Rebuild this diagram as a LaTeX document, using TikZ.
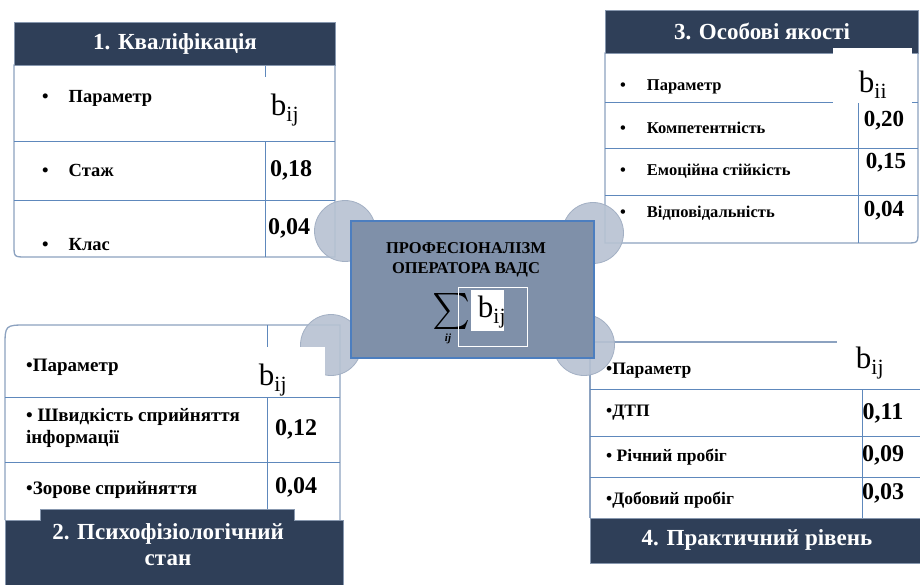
\documentclass[tikz,border=0pt]{standalone}
\usepackage{fontspec}
\setmainfont{Liberation Serif}
\definecolor{hdr}{HTML}{2F3F58}
\definecolor{hdredge}{HTML}{8797AE}
\definecolor{ctr}{HTML}{7F90A9}
\definecolor{ctredge}{HTML}{4C7EBF}
\definecolor{circ}{HTML}{B7C2D2}
\definecolor{circedge}{HTML}{A3B0C4}
\definecolor{grid}{HTML}{5E88BC}
\definecolor{outer}{HTML}{8CA2C0}
\tikzset{
  hdrbox/.style={fill=hdr,draw=hdredge,line width=1pt},
  hdrtext/.style={text=white,font=\fontsize{23}{26}\selectfont\bfseries,align=center,inner sep=0pt},
  panel/.style={fill=white,draw=outer,line width=1.3pt},
  gridline/.style={draw=grid,line width=0.9pt},
  bubble/.style={circle,fill=circ,draw=circedge,line width=0.8pt,minimum size=61pt,inner sep=0pt,fill opacity=0.9},
  lblA/.style={anchor=west,font=\fontsize{18.5}{20}\selectfont\bfseries,inner sep=0pt},
  lblB/.style={anchor=west,font=\fontsize{16.5}{18}\selectfont\bfseries,inner sep=0pt},
  lblD/.style={anchor=west,font=\fontsize{17.5}{19}\selectfont\bfseries,inner sep=0pt},
  lblC/.style={anchor=west,font=\fontsize{19}{21.5}\selectfont\bfseries,inner sep=0pt,align=left},
  valA/.style={font=\fontsize{24}{26}\selectfont\bfseries,inner sep=0pt},
  valB/.style={font=\fontsize{23}{25}\selectfont\bfseries,inner sep=0pt},
  bsym/.style={font=\fontsize{31}{33}\selectfont,inner sep=0pt},
  whitebox/.style={fill=white,draw=none},
}
\begin{document}
\begin{tikzpicture}[x=1pt,y=-1pt]
\useasboundingbox[fill=white] (0,0) rectangle (920,585);

% ---------- Panel 1 ----------
\path[panel] (14,65) -- (14,245) .. controls (14,257) .. (26,257) -- (335,257) -- (335,65) -- cycle;
\draw[gridline] (14,141) -- (335,141);
\draw[gridline] (14,200) -- (335,200);
\draw[gridline] (265,65) -- (265,257);
\node[hdrbox,minimum width=321pt,minimum height=43pt,anchor=north west,inner sep=0pt] (h1) at (14,22) {};
\node[hdrtext] (h1t) at (175,44) {1. Кваліфікація};
\node[lblA] (p1a) at (42,98) {•\hspace{20pt}Параметр};
\node[lblA] (p1b) at (42,170) {•\hspace{20pt}Стаж};
\node[lblA] (p1c) at (42,245) {•\hspace{20pt}Клас};
\node[valA] (v1b) at (291,170) {0,18};
\node[valA] (v1c) at (289,228) {0,04};

% ---------- Panel 3 ----------
\path[panel] (605,53) -- (605,243) -- (906,243) .. controls (918,243) .. (918,231) -- (918,53) -- cycle;
\draw[gridline] (605,102) -- (918,102);
\draw[gridline] (605,148) -- (918,148);
\draw[gridline] (605,195) -- (918,195);
\draw[gridline] (858,53) -- (858,243);
\node[hdrbox,minimum width=313pt,minimum height=43pt,anchor=north west,inner sep=0pt] (h3) at (605,10) {};
\node[hdrtext] (h3t) at (762,31) {3. Особові якості};
\node[lblB] (p3a) at (620,87) {•\hspace{21pt}Параметр};
\node[lblB] (p3b) at (620,128) {•\hspace{21pt}Компетентність};
\node[lblB] (p3c) at (620,171) {•\hspace{21pt}Емоційна стійкість};
\node[lblB] (p3d) at (620,213) {•\hspace{21pt}Відповідальність};
\node[valB] (v3b) at (884,121) {0,20};
\node[valB] (v3c) at (886,163) {0,15};
\node[valB] (v3d) at (884,211) {0,04};

% ---------- Panel 2 ----------
\path[panel] (5,520) -- (5,347) .. controls (5,325) .. (27,325) -- (340,325) -- (340,520);
\draw[gridline] (5,397) -- (340,397);
\draw[gridline] (5,462) -- (340,462);
\draw[gridline] (267,325) -- (267,520);
\path[hdrbox] (5,586) -- (5,520) -- (40,520) -- (40,509) -- (294,509) -- (294,520) -- (343,520) -- (343,586);
\node[hdrtext] (h2t) at (168,545) {2. Психофізіологічний\\стан};
\node[lblC] (p2a) at (26,367) {•Параметр};
\node[lblC] (p2b) at (26,428) {• Швидкість сприйняття\\інформації};
\node[lblC] (p2c) at (26,490) {•Зорове сприйняття};
\node[valA] (v2b) at (296,429) {0,12};
\node[valA] (v2c) at (296,487) {0,04};

% ---------- Panel 4 ----------
\path[panel] (590,518) -- (590,342) -- (921,342);
\draw[gridline] (590,389) -- (921,389);
\draw[gridline] (590,436) -- (921,436);
\draw[gridline] (590,477) -- (921,477);
\draw[gridline] (862,389) -- (862,518);
\node[hdrbox,minimum width=331pt,minimum height=45pt,anchor=north west,inner sep=0pt] (h4) at (590,518) {};
\node[hdrtext] (h4t) at (757,540) {4. Практичний рівень};
\node[lblD] (p4a) at (606,371) {•Параметр};
\node[lblD] (p4b) at (606,413) {•ДТП};
\node[lblD] (p4c) at (606,457) {• Річний пробіг};
\node[lblD] (p4d) at (606,500) {•Добовий пробіг};
\node[valA] (v4b) at (883,413) {0,11};
\node[valA] (v4c) at (883,455) {0,09};
\node[valA] (v4d) at (883,493) {0,03};

% ---------- Bubbles ----------
\node[bubble] (c1) at (345,231) {};
\node[bubble] (c2) at (593,233) {};
\node[bubble] (c3) at (331,345) {};
\node[bubble] (c4) at (584,345) {};

% ---------- Centre ----------
\node[fill=ctr,draw=ctredge,line width=2pt,minimum width=243pt,minimum height=137pt,anchor=north west,inner sep=0pt] (ctr) at (350,220) {};
\node[font=\fontsize{16.5}{19.5}\selectfont\bfseries,align=center,inner sep=0pt,text=black] (ctrt) at (466,260) {ПРОФЕСІОНАЛІЗМ\\ОПЕРАТОРА ВАДС};
\node[inner sep=0pt,text height=27pt,text depth=9pt] (sig) at (451,311) {\scalebox{3.6}{$\sum$}};
\node[inner sep=0pt,font=\fontsize{11}{12}\selectfont\bfseries\itshape] (sigij) at (448,339) {ij};
\node[draw=white,line width=1.2pt,minimum width=69pt,minimum height=59pt,anchor=north west,inner sep=0pt] (ob) at (458,287) {};
\node[whitebox,minimum width=33pt,minimum height=41pt,anchor=north west,inner sep=0pt] (wb) at (471,290) {};
\node[bsym] (b0) at (492,312) {b\textsubscript{ij}};

% ---------- b_ij labels ----------
\node[whitebox,minimum width=40pt,minimum height=64pt,anchor=north west,inner sep=0pt] (w1) at (254,77) {};
\node[bsym] (b1) at (285,110) {b\textsubscript{ij}};
\node[whitebox,minimum width=79pt,minimum height=55pt,anchor=north west,inner sep=0pt] (w3) at (833,48) {};
\node[bsym] (b3) at (873,85) {b\textsubscript{ii}};
\node[whitebox,minimum width=78pt,minimum height=50pt,anchor=north west,inner sep=0pt] (w2) at (247,347) {};
\node[bsym] (b2) at (273,380) {b\textsubscript{ij}};
\node[whitebox,minimum width=83pt,minimum height=48pt,anchor=north west,inner sep=0pt] (w4) at (837,341) {};
\node[bsym] (b4) at (870,363) {b\textsubscript{ij}};
\end{tikzpicture}
\end{document}
